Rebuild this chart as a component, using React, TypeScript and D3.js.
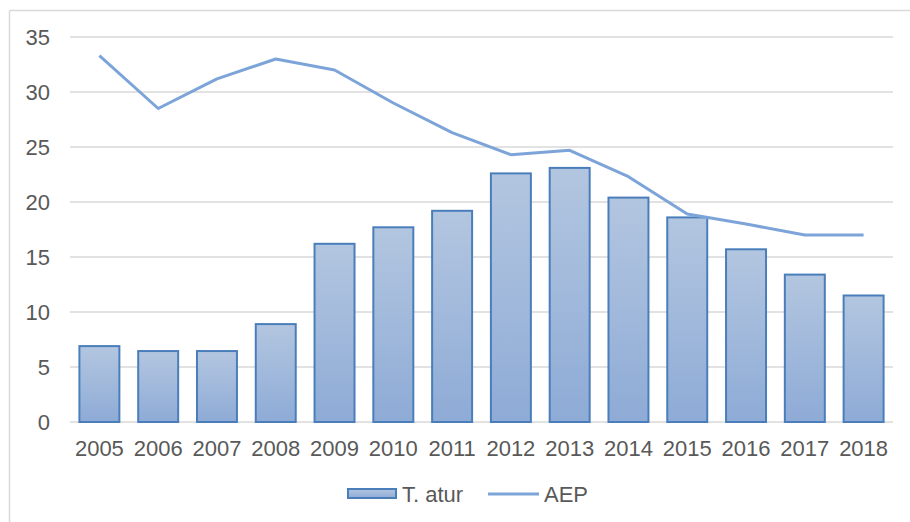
import React from 'react'
import * as d3 from 'd3'

const years = ['2005', '2006', '2007', '2008', '2009', '2010', '2011', '2012', '2013', '2014', '2015', '2016', '2017', '2018']
const taxaAtur = [6.9, 6.45, 6.45, 8.9, 16.2, 17.7, 19.2, 22.6, 23.1, 20.4, 18.6, 15.7, 13.4, 11.5]
const aep = [33.3, 28.5, 31.2, 33.0, 32.0, 29.0, 26.3, 24.3, 24.7, 22.3, 18.9, 18.0, 17.0, 17.0]
const yTicks = [0, 5, 10, 15, 20, 25, 30, 35]
const seriesNames = ['T. atur', 'AEP']

const W = 910
const H = 522
const margin = { top: 37, right: 17, bottom: 100, left: 70 }

const font = "'Liberation Sans', Arial, sans-serif"
const textColor = '#595959'
const gridColor = '#d9d9d9'
const barStroke = '#4a7ebb'
const lineColor = '#7da4d8'
const fs = 22

const App = () => {
  const x = d3
    .scaleBand()
    .domain(years)
    .range([margin.left, W - margin.right])
    .paddingInner(0.32)
    .paddingOuter(0.16)
  const y = d3.scaleLinear().domain([0, 35]).range([H - margin.bottom, margin.top])

  const line = d3
    .line<number>()
    .x((_, i) => (x(years[i]) as number) + x.bandwidth() / 2)
    .y((d) => y(d))

  const legendY = 494

  return (
    <svg
      width={W}
      height={H}
      style={{ position: 'absolute', left: 0, top: 0, background: '#fff' }}
    >
      <defs>
        <linearGradient id="barFill" x1="0" y1="0" x2="0" y2="1">
          <stop offset="0%" stopColor="#b3c6e0" />
          <stop offset="100%" stopColor="#8eabd6" />
        </linearGradient>
      </defs>

      {/* chart border */}
      <line x1={9.5} y1={10.5} x2={W} y2={10.5} stroke={gridColor} strokeWidth={1.5} />
      <line x1={9.5} y1={10.5} x2={9.5} y2={H} stroke={gridColor} strokeWidth={1.5} />

      {/* grid + y labels */}
      {yTicks.map((t) => (
        <g key={t}>
          <line
            x1={margin.left}
            x2={W - margin.right}
            y1={y(t)}
            y2={y(t)}
            stroke={gridColor}
            strokeWidth={1.5}
          />
          <text
            x={50}
            y={y(t) + 7.5}
            textAnchor="end"
            fontFamily={font}
            fontSize={fs}
            fill={textColor}
          >
            {t}
          </text>
        </g>
      ))}

      {/* bars */}
      {taxaAtur.map((v, i) => (
        <rect
          key={years[i]}
          x={x(years[i])}
          y={y(v)}
          width={x.bandwidth()}
          height={y(0) - y(v)}
          fill="url(#barFill)"
          stroke={barStroke}
          strokeWidth={2}
        />
      ))}

      {/* AEP line */}
      <path d={line(aep) as string} fill="none" stroke={lineColor} strokeWidth={3} strokeLinejoin="round" />

      {/* x labels */}
      {years.map((yr) => (
        <text
          key={yr}
          x={(x(yr) as number) + x.bandwidth() / 2}
          y={y(0) + 34}
          textAnchor="middle"
          fontFamily={font}
          fontSize={fs}
          fill={textColor}
        >
          {yr}
        </text>
      ))}

      {/* legend */}
      <rect x={348} y={legendY - 5} width={48} height={9} fill="url(#barFill)" stroke={barStroke} strokeWidth={2} />
      <text x={402} y={legendY + 7.5} fontFamily={font} fontSize={fs} fill={textColor}>
        {seriesNames[0]}
      </text>
      <line x1={488} x2={539} y1={legendY} y2={legendY} stroke={lineColor} strokeWidth={3} />
      <text x={544} y={legendY + 7.5} fontFamily={font} fontSize={fs} fill={textColor}>
        {seriesNames[1]}
      </text>
    </svg>
  )
}

export default App
